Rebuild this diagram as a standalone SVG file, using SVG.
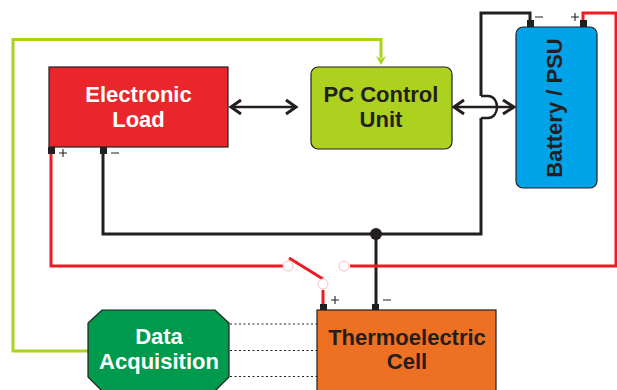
<svg xmlns="http://www.w3.org/2000/svg" width="617" height="390" viewBox="0 0 617 390">
<style>
text{font-family:"Liberation Sans",Arial,sans-serif;font-weight:700;text-anchor:middle}
.w{fill:#fff;font-size:22px}
.k{fill:#231f20;font-size:22px}
.box{stroke:#231f20;stroke-width:1.2}
.bk{fill:none;stroke:#231f20;stroke-width:3}
.rd{fill:none;stroke:#ed1c24;stroke-width:3}
.gn{fill:none;stroke:#acd11e;stroke-width:3}
.th{fill:none;stroke:#231f20;stroke-width:2.4}
.hd{fill:none;stroke:#231f20;stroke-width:3}
.dot{fill:none;stroke:#231f20;stroke-width:1;stroke-dasharray:2 2.5}
.t{fill:#231f20}
.sym{fill:none;stroke:#231f20;stroke-width:1.1}
.ring{fill:#fff;stroke:#f9c0c2;stroke-width:1}
</style>
<g id="connectors">
<path class="gn" d="M88 351H13V39.500H381V58"/>
<path d="M376 56L381 65L386 56L381 59Z" fill="#acd11e"/>
<path class="bk" d="M103 152V234H481V118"/>
<path class="bk" d="M481 96V13H530V22"/>
<path class="th" d="M481 96H488C500 96 500 118 488 118H481"/>
<path class="bk" d="M376 234V306"/>
<circle cx="376" cy="234" r="6" fill="#231f20"/>
<path class="rd" d="M51 152V266H284"/>
<path class="rd" d="M350 266H616V13H583V22"/>
<path class="rd" d="M289 258L323 279"/>
<path class="rd" d="M323 290V306"/>
<path class="th" d="M232 107H295"/>
<path class="hd" d="M241 100L231 107L241 114M286 100L296 107L286 114"/>
<path class="th" d="M454 107H514"/>
<path class="hd" d="M464 100L454 107L464 114M503 100L514 107L503 114"/>
<path class="dot" d="M230 324H317M230 350.500H317M230 376.500H317"/>
<circle class="ring" cx="288" cy="266" r="5"/>
<circle class="ring" cx="344" cy="266" r="5"/>
<circle class="ring" cx="323" cy="284" r="5"/>
</g>
<g id="electronic-load">
<rect class="box" x="49" y="67" width="179" height="80" fill="#e9262b"/>
<rect class="t" x="48" y="147" width="7" height="7"/>
<rect class="t" x="100" y="147" width="7" height="7"/>
<path class="sym" d="M59 153h8M63 149v8M111 153h8"/>
<text class="w" x="138.500" y="102">Electronic</text>
<text class="w" x="138.500" y="127">Load</text>
</g>
<g id="pc-control-unit">
<rect class="box" x="311" y="67" width="141" height="82" rx="7" fill="#acd11e"/>
<text class="k" x="381" y="102">PC Control</text>
<text class="k" x="381" y="127">Unit</text>
</g>
<g id="battery-psu">
<rect class="box" x="516" y="27" width="81" height="161" rx="7" fill="#00a3e8"/>
<rect class="t" x="527" y="20" width="7" height="7"/>
<rect class="t" x="580" y="20" width="7" height="7"/>
<path class="sym" d="M535 17h8M571 17h8M575 13v8"/>
<text class="k" transform="translate(562 108) rotate(-90)">Battery / PSU</text>
</g>
<g id="data-acquisition">
<path class="box" d="M102 310H215L229 323V377L215 391H102L88 377V323Z" fill="#009a4e"/>
<text class="w" x="159" y="344">Data</text>
<text class="w" x="159" y="369">Acquisition</text>
</g>
<g id="thermoelectric-cell">
<rect class="box" x="317" y="310" width="179" height="84" fill="#ee7023"/>
<rect class="t" x="320" y="304" width="7" height="6"/>
<rect class="t" x="372" y="304" width="7" height="6"/>
<path class="sym" d="M331 300h8M335 296v8M383 300h8"/>
<text class="k" x="407" y="345">Thermoelectric</text>
<text class="k" x="407" y="369">Cell</text>
</g>
</svg>
